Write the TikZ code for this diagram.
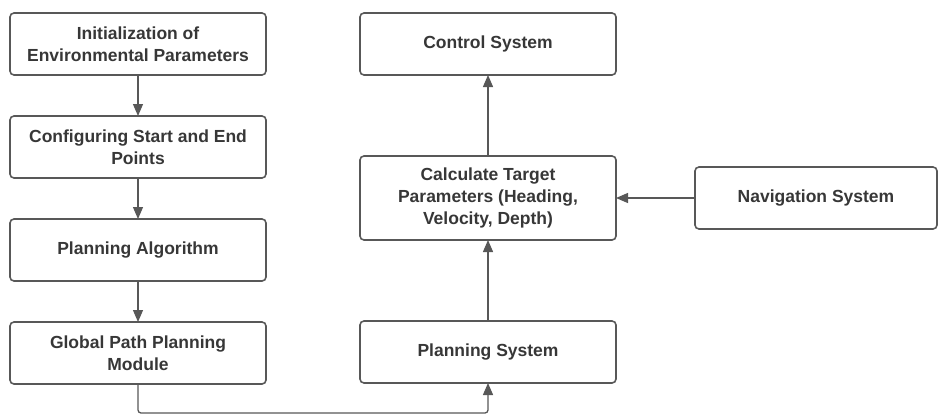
\documentclass[tikz,border=0pt]{standalone}
\usepackage{fontspec}
\setmainfont{Liberation Sans}
\usepackage{tikz}
\usetikzlibrary{arrows.meta,positioning}
\definecolor{flowgray}{RGB}{88,88,88}
\definecolor{flowtext}{RGB}{55,55,55}
\tikzstyle{process} = [rectangle, rounded corners=4pt, minimum width=256pt, minimum height=62pt, outer sep=0pt, align=center, draw=flowgray, line width=1.6pt, text=flowtext, font=\bfseries\fontsize{17.5}{22}\selectfont]
\tikzstyle{arrow} = [line width=1.3pt, color=flowgray, -{Triangle[length=12pt,width=10pt]}]

\begin{document}
\begin{tikzpicture}[x=1pt, y=1pt, node distance=41pt]
\useasboundingbox (0,0) rectangle (939,-415);
% Left column
\node[process] (init) at (138,-44) {Initialization of\\Environmental Parameters};
\node[process, below=of init] (config) {Configuring Start and End\\Points};
\node[process, below=of config] (algo) {Planning Algorithm};
\node[process, below=of algo] (global) {Global Path Planning\\Module};

% Right column
\node[process] (control) at (488,-44) {Control System};
\node[process, minimum height=84pt] (calc) at (488,-198) {Calculate Target\\Parameters (Heading,\\Velocity, Depth)};
\node[process] (plansys) at (488,-352) {Planning System};
\node[process, minimum width=242pt, right=79pt of calc] (nav) {Navigation System};

\draw[arrow] (init.south) -- (config.north);
\draw[arrow] (config.south) -- (algo.north);
\draw[arrow] (algo.south) -- (global.north);
\draw[arrow, rounded corners=3pt] (global.south) -- ++(0,-29) -| (plansys.south);
\draw[arrow] (plansys.north) -- (calc.south);
\draw[arrow] (calc.north) -- (control.south);
\draw[arrow] (nav.west) -- (calc.east);
\end{tikzpicture}
\end{document}
